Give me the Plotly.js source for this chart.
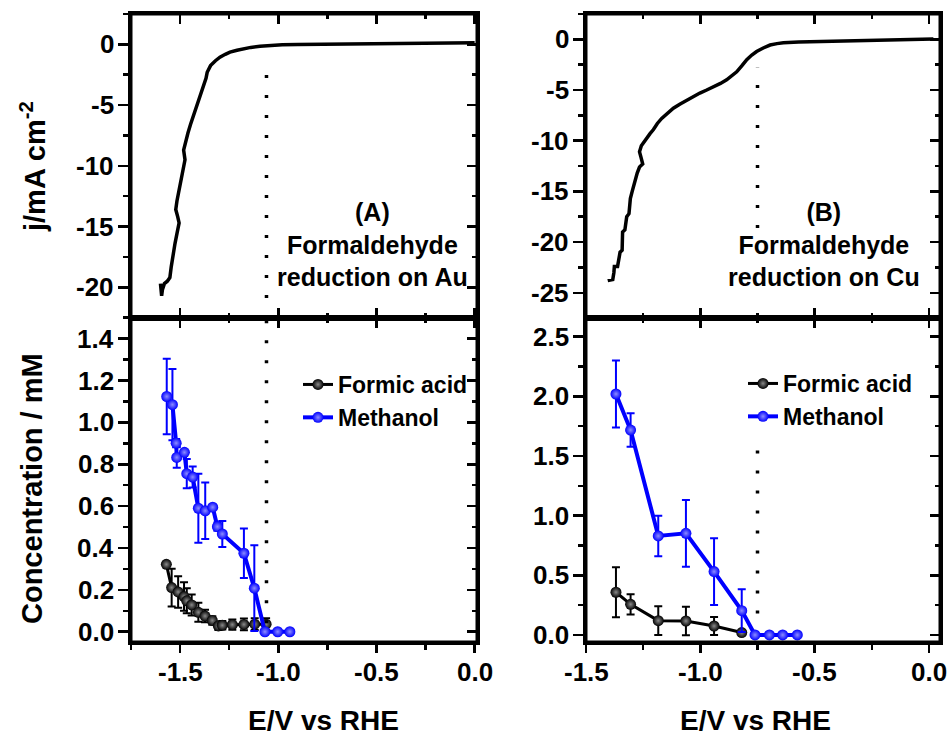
<!DOCTYPE html>
<html><head><meta charset="utf-8">
<script src="https://cdn.plot.ly/plotly-3.0.1.min.js"></script>
<style>
html,body{margin:0;padding:0;background:#fff}
#chart{width:952px;height:736px}
</style>
</head><body><div id="chart"></div>
<script>
// ---------- Data ----------
// (A) LSV on Au
const auE = [-1.600,-1.594,-1.590,-1.580,-1.565,-1.552,-1.545,-1.535,-1.526,-1.515,-1.505,-1.512,-1.522,-1.516,-1.507,-1.497,-1.490,-1.482,-1.475,-1.482,-1.472,-1.460,-1.447,-1.432,-1.418,-1.405,-1.392,-1.380,-1.368,-1.362,-1.345,-1.320,-1.297,-1.270,-1.246,-1.210,-1.178,-1.140,-1.093,-1.040,-0.980,-0.900,-0.800,-0.700,-0.600,-0.500,-0.400,-0.300,-0.200,-0.100,0.000];
const auJ = [-19.7,-20.7,-20.2,-19.7,-19.5,-19.2,-18.3,-17.2,-16.4,-15.5,-14.7,-14.2,-13.6,-12.9,-12.2,-11.3,-10.8,-10.2,-9.5,-8.7,-8.0,-7.3,-6.6,-5.9,-5.2,-4.5,-3.9,-3.4,-2.8,-2.3,-1.75,-1.35,-1.05,-0.82,-0.64,-0.48,-0.36,-0.25,-0.15,-0.08,-0.04,-0.02,-0.01,0.0,0.02,0.04,0.07,0.10,0.12,0.13,0.13];
// (B) LSV on Cu
const cuE = [-1.405,-1.383,-1.378,-1.376,-1.362,-1.355,-1.351,-1.342,-1.341,-1.340,-1.330,-1.326,-1.322,-1.312,-1.310,-1.306,-1.298,-1.292,-1.283,-1.276,-1.266,-1.252,-1.260,-1.266,-1.258,-1.246,-1.234,-1.220,-1.205,-1.188,-1.169,-1.145,-1.118,-1.090,-1.060,-1.030,-1.002,-0.972,-0.943,-0.912,-0.885,-0.862,-0.841,-0.818,-0.797,-0.775,-0.754,-0.725,-0.695,-0.665,-0.637,-0.570,-0.506,-0.430,-0.360,-0.290,-0.214,-0.140,-0.069,0.019];
const cuJ = [-23.8,-23.7,-23.0,-22.4,-22.4,-21.6,-21.0,-20.8,-19.8,-19.0,-18.8,-18.0,-17.5,-17.2,-16.3,-15.7,-15.0,-14.4,-13.8,-13.2,-12.6,-12.3,-11.6,-11.1,-10.5,-10.1,-9.7,-9.3,-8.9,-8.3,-7.8,-7.3,-6.8,-6.4,-6.0,-5.6,-5.3,-5.0,-4.7,-4.35,-4.0,-3.6,-3.2,-2.6,-2.0,-1.55,-1.2,-0.85,-0.56,-0.42,-0.33,-0.27,-0.23,-0.20,-0.17,-0.13,-0.07,-0.04,0.0,0.03];

// Products on Au
const auFormicE = [-1.570,-1.543,-1.510,-1.480,-1.466,-1.441,-1.407,-1.373,-1.336,-1.305,-1.285,-1.234,-1.175,-1.120,-1.062];
const auFormicC = [0.322,0.211,0.190,0.168,0.148,0.128,0.093,0.075,0.054,0.028,0.031,0.034,0.035,0.036,0.036];
const auFormicErr = [0.0,0.09,0.075,0.068,0.06,0.05,0.045,0.03,0.02,0.02,0.02,0.025,0.028,0.028,0.028];
const auMethE = [-1.568,-1.539,-1.520,-1.517,-1.478,-1.466,-1.436,-1.407,-1.372,-1.334,-1.310,-1.285,-1.175,-1.122,-1.068,-1.003,-0.941];
const auMethC = [1.124,1.085,0.901,0.833,0.857,0.755,0.739,0.590,0.578,0.595,0.502,0.467,0.375,0.208,0.0,0.0,0.0];
const auMethErr = [0.18,0.17,0.02,0.05,0.0,0.07,0.05,0.165,0.135,0.0,0.02,0.062,0.118,0.205,0,0,0];

// Products on Cu
const cuFormicE = [-1.369,-1.305,-1.184,-1.063,-0.940,-0.819];
const cuFormicC = [0.358,0.257,0.120,0.117,0.075,0.020];
const cuFormicErr = [0.21,0.085,0.12,0.12,0.075,0.0];
const cuMethE = [-1.369,-1.305,-1.184,-1.063,-0.940,-0.819,-0.761,-0.698,-0.640,-0.576];
const cuMethC = [2.020,1.718,0.830,0.852,0.531,0.204,0.0,0.0,0.0,0.0];
const cuMethErr = [0.28,0.14,0.17,0.28,0.28,0.18,0,0,0,0];

// Onset potentials (dotted markers)
const auOnset = -1.06;
const cuOnset = -0.75;

// Tick labels
const xTickVals = [-1.5, -1.0, -0.5, 0.0];
const xTickText = ['-1.5', '-1.0', '-0.5', '0.0'];
const yTickValsAu = [-20, -15, -10, -5, 0];
const yTickTextAu = ['-20', '-15', '-10', '-5', '0'];
const yTickValsCu = [-25, -20, -15, -10, -5, 0];
const yTickTextCu = ['-25', '-20', '-15', '-10', '-5', '0'];
const cTickValsAu = [0, 0.2, 0.4, 0.6, 0.8, 1.0, 1.2, 1.4];
const cTickTextAu = ['0.0', '0.2', '0.4', '0.6', '0.8', '1.0', '1.2', '1.4'];
const cTickValsCu = [0, 0.5, 1.0, 1.5, 2.0, 2.5];
const cTickTextCu = ['0.0', '0.5', '1.0', '1.5', '2.0', '2.5'];

const seriesNames = ['Formic acid','Methanol'];
const panelLabels = ['(A)<br>Formaldehyde<br>reduction on Au','(B)<br>Formaldehyde<br>reduction on Cu'];
const xTitle = 'E/V vs RHE';
const yTitleTop = 'j/mA cm<sup>-2</sup>';
const yTitleBottom = 'Concentration / mM';

// ---------- Styling ----------
const FAM = 'Liberation Sans, Arial, Helvetica, sans-serif';
const BLUE = '#0000ff';

const XL = [131/952, 477/952];
const XR = [586/952, 940/952];
const YT = [1-318/736, 1-14/736];
const YB = [1-642/736, 1-318/736];

const rngXL = [-1.75, 0.012];
const rngXR = [-1.5, 0.048];
const rngYTL = [-22.53, 2.5];
const rngYTR = [-27.49, 2.5];
const rngYBL = [-0.049, 1.499];
const rngYBR = [-0.059, 2.657];

function ax(o) {
  return Object.assign({
    showline: true, linewidth: 3, linecolor: '#000', mirror: true, showticklabels: false,
    showgrid: false, zeroline: false, ticklen: 10, tickwidth: 2.5, tickcolor: '#000', fixedrange: true
  }, o);
}
function minor(dt, dir) { return {tickmode: 'linear', tick0: 0, dtick: dt, ticks: dir, ticklen: 5, tickwidth: 2.5, tickcolor: '#000', showgrid: false}; }
function overlay(o) {
  return Object.assign({
    showline: true, linewidth: 3, linecolor: '#000', showgrid: false, zeroline: false, showticklabels: false,
    ticks: 'inside', ticklen: 10, tickwidth: 2.5, tickcolor: '#000', fixedrange: true
  }, o);
}

function lsv(x, y, xa, ya) {
  return {x: x, y: y, xaxis: xa, yaxis: ya, mode: 'lines', type: 'scatter',
    line: {color: '#000', width: 3.5}, showlegend: false, hoverinfo: 'skip'};
}
function prod(x, y, err, xa, ya, name, color, lw, lg, light) {
  return {x: x, y: y, xaxis: xa, yaxis: ya, name: name, legend: lg, type: 'scatter',
    mode: 'lines+markers',
    line: {color: color, width: lw},
    marker: {size: 11, color: color, gradient: {type: 'radial', color: light}, line: {width: 0}},
    error_y: {type: 'data', array: err, visible: true, color: color, thickness: 2, width: 4},
    hoverinfo: 'skip'};
}
function dummy(xa, ya) { return {x: [], y: [], xaxis: xa, yaxis: ya, type: 'scatter', showlegend: false, hoverinfo: 'skip'}; }
const frameLine = {color: '#000', width: 3};
function frame(xd, yd) {
  return [
    {type: 'line', xref: 'paper', yref: 'paper', x0: xd[0], x1: xd[1], y0: yd[1], y1: yd[1], line: frameLine, layer: 'above'},
    {type: 'line', xref: 'paper', yref: 'paper', x0: xd[1], x1: xd[1], y0: yd[0], y1: yd[1], line: frameLine, layer: 'above'},
    {type: 'line', xref: 'paper', yref: 'paper', x0: xd[0], x1: xd[1], y0: yd[0], y1: yd[0], line: frameLine, layer: 'above'},
    {type: 'line', xref: 'paper', yref: 'paper', x0: xd[0], x1: xd[0], y0: yd[0], y1: yd[1], line: frameLine, layer: 'above'}
  ];
}

const data = [
  lsv(auE, auJ, 'x', 'y'),
  lsv(cuE, cuJ, 'x3', 'y3'),
  prod(auFormicE, auFormicC, auFormicErr, 'x2', 'y2', seriesNames[0], '#000', 3, 'legend', '#8a8a8a'),
  prod(auMethE, auMethC, auMethErr, 'x2', 'y2', seriesNames[1], BLUE, 4, 'legend', '#8c8cff'),
  prod(cuFormicE, cuFormicC, cuFormicErr, 'x4', 'y4', seriesNames[0], '#000', 3, 'legend2', '#8a8a8a'),
  prod(cuMethE, cuMethC, cuMethErr, 'x4', 'y4', seriesNames[1], BLUE, 4, 'legend2', '#8c8cff'),
  dummy('x', 'y5'), dummy('x2', 'y6'), dummy('x3', 'y7'), dummy('x4', 'y8'),
  dummy('x5', 'y'), dummy('x6', 'y2'), dummy('x7', 'y3'), dummy('x8', 'y4')
];

// ---------- Text (tick labels & titles as annotations, placed through the axes) ----------
const annotations = [];
function txt(o, size) {
  annotations.push(Object.assign({showarrow: false, font: {family: FAM, size: size, color: '#000', weight: 700}}, o));
}
function xLabels(xa) {
  xTickVals.forEach((v, i) => txt({xref: xa, yref: 'paper', x: v, y: 1-672/736, xanchor: 'center', yanchor: 'middle', text: '<b>' + xTickText[i] + '</b>'}, 26));
}
function yLabels(ya, vals, texts, xr) {
  vals.forEach((v, i) => txt({xref: 'paper', yref: ya, x: xr, y: v, xanchor: 'right', yanchor: 'middle', text: '<b>' + texts[i] + '</b>'}, 26));
}
xLabels('x2'); xLabels('x4');
yLabels('y', yTickValsAu, yTickTextAu, 116/952);
yLabels('y2', cTickValsAu, cTickTextAu, 116/952);
yLabels('y3', yTickValsCu, yTickTextCu, 571/952);
yLabels('y4', cTickValsCu, cTickTextCu, 571/952);
txt({xref: 'paper', yref: 'paper', x: 323/952, y: 1-720/736, xanchor: 'center', yanchor: 'middle', text: '<b>' + xTitle + '</b>'}, 28);
txt({xref: 'paper', yref: 'paper', x: 755/952, y: 1-720/736, xanchor: 'center', yanchor: 'middle', text: '<b>' + xTitle + '</b>'}, 28);
txt({xref: 'paper', yref: 'paper', x: 33/952, y: 1-167/736, xanchor: 'center', yanchor: 'middle', textangle: -90, text: '<b>' + yTitleTop + '</b>'}, 29);
txt({xref: 'paper', yref: 'paper', x: 32/952, y: 1-489/736, xanchor: 'center', yanchor: 'middle', textangle: -90, text: '<b>' + yTitleBottom + '</b>'}, 29);
txt({xref: 'paper', yref: 'paper', x: 372/952, y: 1-245/736, xanchor: 'center', yanchor: 'middle', align: 'center', text: '<b>' + panelLabels[0] + '</b>'}, 25);
txt({xref: 'paper', yref: 'paper', x: 824/952, y: 1-245/736, xanchor: 'center', yanchor: 'middle', align: 'center', text: '<b>' + panelLabels[1] + '</b>'}, 25);

const legendBase = {bgcolor: 'rgba(0,0,0,0)', borderwidth: 0, yanchor: 'top', xanchor: 'left',
  font: {family: FAM, size: 23, color: '#000', weight: 700}, tracegroupgap: 0, itemclick: false, itemdoubleclick: false};

const dotted = {color: '#000', width: 3.5, dash: '3px,17px'};

const layout = {
  width: 952, height: 736, margin: {l: 0, r: 0, t: 0, b: 0},
  paper_bgcolor: '#fff', plot_bgcolor: 'rgba(0,0,0,0)',
  font: {family: FAM, color: '#000', weight: 700},
  showlegend: true,
  // top-left
  xaxis: ax({domain: XL, anchor: 'y', range: rngXL, tickmode: 'array', tickvals: xTickVals, ticks: 'inside', minor: minor(0.25, 'inside')}),
  xaxis5: overlay({overlaying: 'x', side: 'top', anchor: 'y', range: rngXL, dtick: 0.5, tick0: 0, minor: minor(0.25, 'inside')}),
  yaxis: ax({domain: YT, anchor: 'x', range: rngYTL, tickmode: 'array', tickvals: yTickValsAu, ticks: 'outside', minor: minor(2.5, 'outside')}),
  yaxis5: overlay({overlaying: 'y', side: 'right', anchor: 'x', range: rngYTL, dtick: 5, tick0: 0, minor: minor(2.5, 'inside')}),
  // bottom-left
  xaxis2: ax({domain: XL, anchor: 'y2', range: rngXL, tickmode: 'array', tickvals: xTickVals, ticks: 'outside', ticklen: 8, minor: minor(0.25, 'outside')}),
  xaxis6: overlay({overlaying: 'x2', side: 'top', anchor: 'y2', range: rngXL, dtick: 0.5, tick0: 0, minor: minor(0.25, 'inside')}),
  yaxis2: ax({domain: YB, anchor: 'x2', range: rngYBL, tickmode: 'array', tickvals: cTickValsAu, ticks: 'outside', minor: minor(0.1, 'outside')}),
  yaxis6: overlay({overlaying: 'y2', side: 'right', anchor: 'x2', range: rngYBL, dtick: 0.2, tick0: 0, minor: minor(0.1, 'inside')}),
  // top-right
  xaxis3: ax({domain: XR, anchor: 'y3', range: rngXR, tickmode: 'array', tickvals: xTickVals, ticks: 'inside', minor: minor(0.25, 'inside')}),
  xaxis7: overlay({overlaying: 'x3', side: 'top', anchor: 'y3', range: rngXR, dtick: 0.5, tick0: 0, minor: minor(0.25, 'inside')}),
  yaxis3: ax({domain: YT, anchor: 'x3', range: rngYTR, tickmode: 'array', tickvals: yTickValsCu, ticks: 'outside', minor: minor(2.5, 'outside')}),
  yaxis7: overlay({overlaying: 'y3', side: 'right', anchor: 'x3', range: rngYTR, dtick: 5, tick0: 0, minor: minor(2.5, 'inside')}),
  // bottom-right
  xaxis4: ax({domain: XR, anchor: 'y4', range: rngXR, tickmode: 'array', tickvals: xTickVals, ticks: 'outside', ticklen: 8, minor: minor(0.25, 'outside')}),
  xaxis8: overlay({overlaying: 'x4', side: 'top', anchor: 'y4', range: rngXR, dtick: 0.5, tick0: 0, minor: minor(0.25, 'inside')}),
  yaxis4: ax({domain: YB, anchor: 'x4', range: rngYBR, tickmode: 'array', tickvals: cTickValsCu, ticks: 'outside', minor: minor(0.25, 'outside')}),
  yaxis8: overlay({overlaying: 'y4', side: 'right', anchor: 'x4', range: rngYBR, dtick: 0.5, tick0: 0, minor: minor(0.25, 'inside')}),

  legend: Object.assign({x: 298/952, y: 1-363/736}, legendBase),
  legend2: Object.assign({x: 743/952, y: 1-362/736}, legendBase),

  shapes: [].concat(
    frame(XL, YT), frame(XL, YB), frame(XR, YT), frame(XR, YB),
    [
      {type: 'line', xref: 'x', yref: 'y', x0: auOnset, x1: auOnset, y0: rngYTL[0], y1: -1.3, line: dotted},
      {type: 'line', xref: 'x2', yref: 'y2', x0: auOnset, x1: auOnset, y0: 0.04, y1: rngYBL[1], line: dotted},
      {type: 'line', xref: 'x3', yref: 'y3', x0: cuOnset, x1: cuOnset, y0: -18.6, y1: -2.8, line: dotted},
      {type: 'line', xref: 'x4', yref: 'y4', x0: cuOnset, x1: cuOnset, y0: 0.18, y1: 1.68, line: dotted}
    ]),
  annotations: annotations
};

Plotly.newPlot('chart', data, layout, {displayModeBar: false, staticPlot: true});
</script></body></html>
